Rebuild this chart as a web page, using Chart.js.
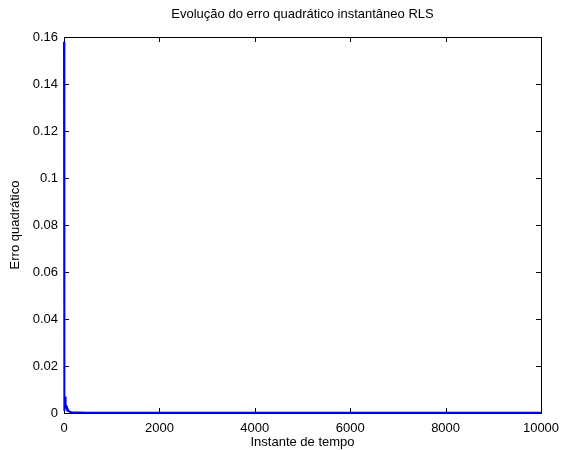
<!DOCTYPE html>
<html>
<head>
<meta charset="utf-8">
<script src="https://cdn.jsdelivr.net/npm/chart.js@4"></script>
<style>
  html, body { margin: 0; padding: 0; background: #fff; }
  #wrap { width: 563px; height: 450px; }
</style>
</head>
<body>
<div id="wrap"><canvas id="errChart" width="563" height="450"></canvas></div>
<script>
// instantes de tempo (amostras) e erro quadrático
const instantes = [0, 1, 2, 3, 4, 5, 6, 7, 8, 10, 12, 15, 18, 22, 26, 30, 35, 40, 50, 60, 70, 80, 100, 120, 150, 200, 300, 500, 1000, 2000, 3000, 4000, 5000, 6000, 7000, 8000, 9000, 10000];
const erro = [0.158, 0.002, 0.125, 0.001, 0.068, 0.003, 0.040, 0.002, 0.020, 0.012, 0.005, 0.009, 0.002, 0.007, 0.003, 0.006, 0.002, 0.004, 0.002, 0.003, 0.001, 0.0015, 0.0008, 0.0005, 0.0003, 0.0002, 0.0002, 0.0001, 0.0001, 0.0001, 0.0001, 0.0001, 0.0001, 0.0001, 0.0001, 0.0001, 0.0001, 0.0001];
const xTicks = [0, 2000, 4000, 6000, 8000, 10000];
const yTicks = [0, 0.02, 0.04, 0.06, 0.08, 0.1, 0.12, 0.14, 0.16];
const titulo = 'Evolução do erro quadrático instantâneo RLS';

const font = 'Liberation Sans, Arial, sans-serif';

// caixa, marcas para dentro (estilo MATLAB) e título centrado nos eixos
const boxTicks = {
    id: 'boxTicks',
    beforeDatasetsDraw(chart) {
        const { ctx, chartArea: a, scales } = chart;
        const len = 5;
        ctx.save();
        ctx.strokeStyle = '#000';
        ctx.lineWidth = 1;
        ctx.beginPath();
        xTicks.forEach(v => {
            const x = Math.round(scales.x.getPixelForValue(v)) + 0.5;
            ctx.moveTo(x, a.bottom); ctx.lineTo(x, a.bottom - len);
            ctx.moveTo(x, a.top); ctx.lineTo(x, a.top + len);
        });
        yTicks.forEach(v => {
            const y = Math.round(scales.y.getPixelForValue(v)) + 0.5;
            ctx.moveTo(a.left, y); ctx.lineTo(a.left + len, y);
            ctx.moveTo(a.right, y); ctx.lineTo(a.right - len, y);
        });
        ctx.stroke();
        ctx.strokeRect(Math.round(a.left) + 0.5, Math.round(a.top) + 0.5,
            Math.round(a.right - a.left), Math.round(a.bottom - a.top));

        ctx.fillStyle = '#000';
        ctx.font = '13px ' + font;
        ctx.textAlign = 'center';
        ctx.textBaseline = 'middle';
        ctx.fillText(titulo, (a.left + a.right) / 2, 14);
        ctx.restore();
    }
};

new Chart(document.getElementById('errChart').getContext('2d'), {
    type: 'line',
    data: {
        datasets: [{
            data: instantes.map((t, i) => ({ x: t, y: erro[i] })),
            borderColor: '#0000ff',
            borderWidth: 2,
            pointRadius: 0,
            tension: 0,
            fill: false,
            clip: 3
        }]
    },
    options: {
        responsive: false,
        animation: false,
        layout: { padding: { left: 0, right: 22, top: 37, bottom: 0 } },
        plugins: {
            legend: { display: false },
            tooltip: { enabled: false },
            title: { display: false }
        },
        scales: {
            x: {
                type: 'linear',
                min: 0,
                max: 10000,
                afterBuildTicks: s => { s.ticks = xTicks.map(v => ({ value: v })); },
                ticks: {
                    color: '#000', font: { family: font, size: 13 }, padding: 8, maxRotation: 0,
                    callback: v => String(v)
                },
                grid: { display: false, drawTicks: false },
                border: { display: false },
                title: {
                    display: true, text: 'Instante de tempo', color: '#000',
                    font: { family: font, size: 13 }, padding: { top: 0, bottom: 0 }
                },
                afterFit: s => { s.height = 37; s.paddingLeft = 0; s.paddingRight = 0; }
            },
            y: {
                min: 0,
                max: 0.16,
                afterBuildTicks: s => { s.ticks = yTicks.map(v => ({ value: v })); },
                ticks: {
                    color: '#000', font: { family: font, size: 13 }, padding: 6,
                    callback: v => String(Math.round(v * 100) / 100)
                },
                grid: { display: false, drawTicks: false },
                border: { display: false },
                title: {
                    display: true, text: 'Erro quadrático', color: '#000',
                    font: { family: font, size: 13 }, padding: { top: 8, bottom: 0 }
                },
                afterFit: s => { s.width = 64; s.paddingTop = 0; s.paddingBottom = 0; }
            }
        }
    },
    plugins: [boxTicks]
});
</script>
</body>
</html>
